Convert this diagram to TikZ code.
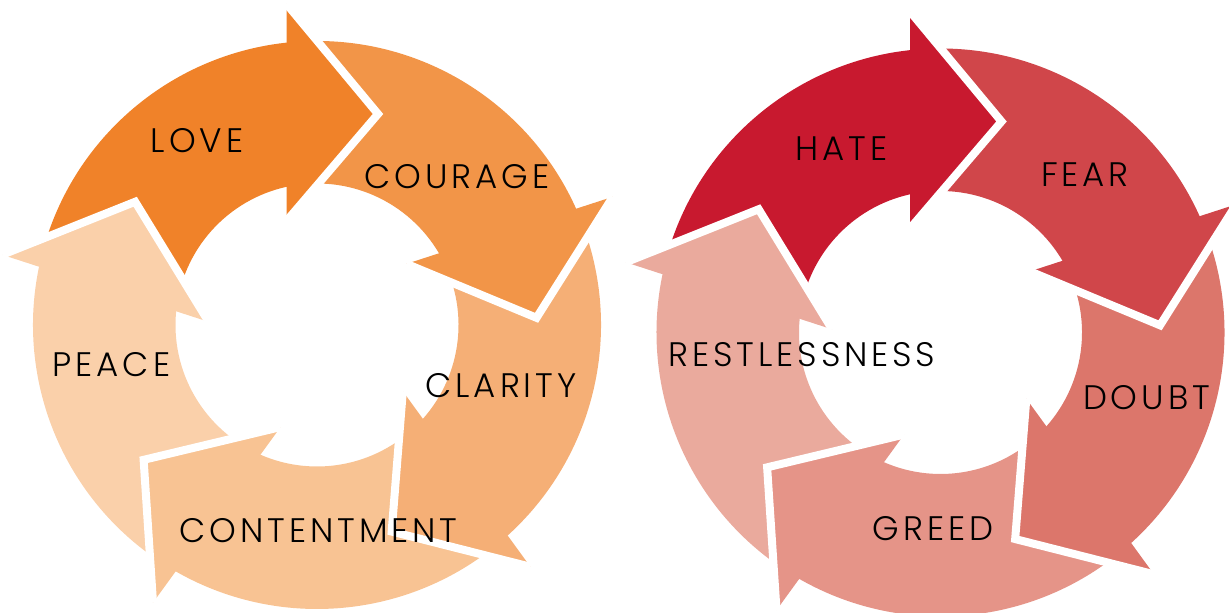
\documentclass[tikz,border=0pt]{standalone}
\usepackage{fontspec}
\IfFontExistsTF{Poppins Light}{\setmainfont{Poppins Light}[LetterSpace=11.5]}{\setmainfont{Poppins}[LetterSpace=11.5]}
\usetikzlibrary{positioning}

\definecolor{love}{HTML}{F08229}
\definecolor{courage}{HTML}{F29548}
\definecolor{clarity}{HTML}{F5AF76}
\definecolor{contentment}{HTML}{F8C393}
\definecolor{peace}{HTML}{FAD0AA}
\definecolor{hate}{HTML}{C8192F}
\definecolor{fear}{HTML}{D0464A}
\definecolor{doubt}{HTML}{DC766B}
\definecolor{greed}{HTML}{E59488}
\definecolor{restless}{HTML}{EAAA9D}

\tikzset{
  cycleword/.style={inner sep=0pt,text=black,font=\fontsize{17}{17}\selectfont},
  gapline/.style={draw=white,line width=4pt,line join=miter,miter limit=10}
}

% one ring of five arrows, #1 = centre, #2 = list of colours
\newcommand\arrowring[2]{%
  \begin{scope}[shift={#1}]
    \foreach \col [count=\i from 0] in {#2}
      \fill[\col,rotate=-72*\i] (165:284) arc[start angle=165,end angle=93,radius=284]
        -- (93:141.5) arc[start angle=93,end angle=165,radius=141.5] -- cycle;
    \foreach \col [count=\i from 0] in {#2} {
      \fill[\col,rotate=-72*\i] (-30.5,321) -- (61,211) -- (-30.5,104) -- cycle;
      \draw[gapline,rotate=-72*\i] (-30.5,321) -- (61,211) -- (-30.5,104);
    }
  \end{scope}}

\begin{document}
\begin{tikzpicture}[x=0.5pt,y=0.5pt]
  \useasboundingbox (0,0) rectangle (1229,613);
  \clip (0,0) rectangle (1229,613);

  \arrowring{(317,288)}{love,courage,clarity,contentment,peace}
  \arrowring{(940.5,280.5)}{hate,fear,doubt,greed,restless}

  \node[cycleword] (love) at (197,472) {LOVE};
  \node[cycleword] (courage) at (457,436) {COURAGE};
  \node[cycleword] (clarity) at (501,227) {CLARITY};
  \node[cycleword] (contentment) at (318.5,82) {CONTENTMENT};
  \node[cycleword] (peace) at (111.5,248) {PEACE};

  \node[cycleword] (hate) at (841.5,464.5) {HATE};
  \node[cycleword] (fear) at (1085,438) {FEAR};
  \node[cycleword] (doubt) at (1146.5,215) {DOUBT};
  \node[cycleword] (greed) at (933,84) {GREED};
  \node[cycleword] (restless) at (802,258) {RESTLESSNESS};
\end{tikzpicture}
\end{document}
